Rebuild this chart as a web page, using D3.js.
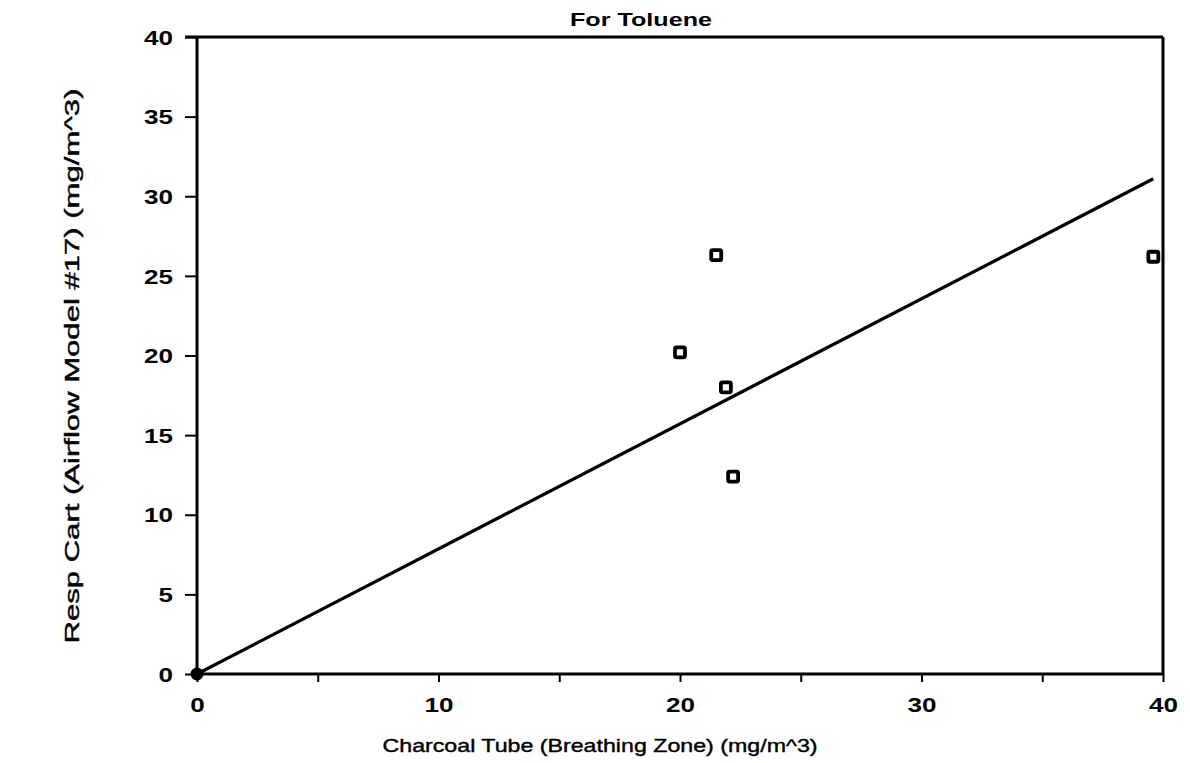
<!DOCTYPE html>
<html><head><meta charset="utf-8">
<script src="https://cdn.jsdelivr.net/npm/d3@7"></script>
<style>
html,body{margin:0;padding:0;background:#fff;}
svg{display:block;}
text{font-family:"Liberation Sans",Arial,sans-serif;fill:#000;}
</style></head><body>
<svg id="chart" width="1190" height="763"></svg>
<script>
const xTicks = [0, 10, 20, 30, 40];
const xMinorTicks = [5, 15, 25, 35];
const yTicks = [0, 5, 10, 15, 20, 25, 30, 35, 40];
const charcoalTube = [20.0, 21.5, 21.9, 22.2, 39.6];
const respCart = [20.2, 26.3, 18.0, 12.4, 26.2];
const originPoint = [0, 0];
const fitX = [0, 39.6];
const fitY = [0, 31.1];
const titleText = "For Toluene";
const xLabel = "Charcoal Tube (Breathing Zone) (mg/m^3)";
const yLabel = "Resp Cart (Airflow Model #17) (mg/m^3)";

const svg = d3.select("#chart");
const L = 197, R = 1163, T = 37, B = 674;
const x = d3.scaleLinear().domain([0, 40]).range([L, R]);
const y = d3.scaleLinear().domain([0, 40]).range([B, T]);

// frame top & right
svg.append("line").attr("x1", L - 12).attr("x2", R).attr("y1", T).attr("y2", T)
  .attr("stroke", "#000").attr("stroke-width", 3);
svg.append("line").attr("x1", R).attr("x2", R).attr("y1", T).attr("y2", B)
  .attr("stroke", "#000").attr("stroke-width", 3);

// x axis
const xAxis = d3.axisBottom(x).tickValues(xTicks.concat(xMinorTicks)).tickSize(8)
  .tickFormat(d => xTicks.includes(d) ? d : "");
const gx = svg.append("g").attr("transform", `translate(0,${B})`).call(xAxis);
gx.attr("font-size", null).attr("font-family", null);
gx.select(".domain").attr("stroke-width", 3).attr("d", `M${L},0H${R}`);
gx.selectAll(".tick line").attr("stroke-width", 2);
gx.selectAll(".tick text").attr("font-size", 20).attr("font-weight", "bold")
  .attr("y", 38).attr("dy", null)
  .attr("textLength", d => String(d).length * 14.5).attr("lengthAdjust", "spacingAndGlyphs");

// y axis
const yAxis = d3.axisLeft(y).tickValues(yTicks).tickSize(12).tickPadding(12);
const gy = svg.append("g").attr("transform", `translate(${L},0)`).call(yAxis);
gy.attr("font-size", null).attr("font-family", null);
gy.select(".domain").attr("stroke-width", 3).attr("d", `M0,${B}V${T}`);
gy.selectAll(".tick line").attr("stroke-width", 2);
gy.selectAll(".tick text").attr("font-size", 20).attr("font-weight", "bold")
  .attr("dy", "0.36em")
  .attr("textLength", d => String(d).length * 14.5).attr("lengthAdjust", "spacingAndGlyphs");

// regression line
svg.append("line")
  .attr("x1", x(fitX[0])).attr("y1", y(fitY[0]))
  .attr("x2", x(fitX[1])).attr("y2", y(fitY[1]))
  .attr("stroke", "#000").attr("stroke-width", 3.2);

// data squares
const pts = charcoalTube.map((v, i) => ({x: v, y: respCart[i]}));
svg.selectAll("rect.pt").data(pts).enter().append("rect")
  .attr("class", "pt")
  .attr("x", d => x(d.x) - 5).attr("y", d => y(d.y) - 5)
  .attr("width", 10).attr("height", 10).attr("rx", 1.5)
  .attr("fill", "#fff").attr("stroke", "#000").attr("stroke-width", 3.8);

// origin point (filled)
svg.append("circle").attr("cx", x(originPoint[0])).attr("cy", y(originPoint[1]))
  .attr("r", 6.5).attr("fill", "#000");

// title
svg.append("text").attr("x", 641).attr("y", 26).attr("text-anchor", "middle")
  .attr("font-size", 19).attr("font-weight", "bold")
  .attr("textLength", 142).attr("lengthAdjust", "spacingAndGlyphs").text(titleText);

// axis labels
svg.append("text").attr("x", 600).attr("y", 752).attr("text-anchor", "middle")
  .attr("font-size", 19).attr("stroke", "#000").attr("stroke-width", 0.4)
  .attr("textLength", 435).attr("lengthAdjust", "spacingAndGlyphs")
  .text(xLabel);
svg.append("text").attr("transform", "translate(79,366) rotate(-90)")
  .attr("text-anchor", "middle").attr("font-size", 20)
  .attr("stroke", "#000").attr("stroke-width", 0.4)
  .attr("textLength", 555).attr("lengthAdjust", "spacingAndGlyphs").text(yLabel);
</script>
</body></html>
